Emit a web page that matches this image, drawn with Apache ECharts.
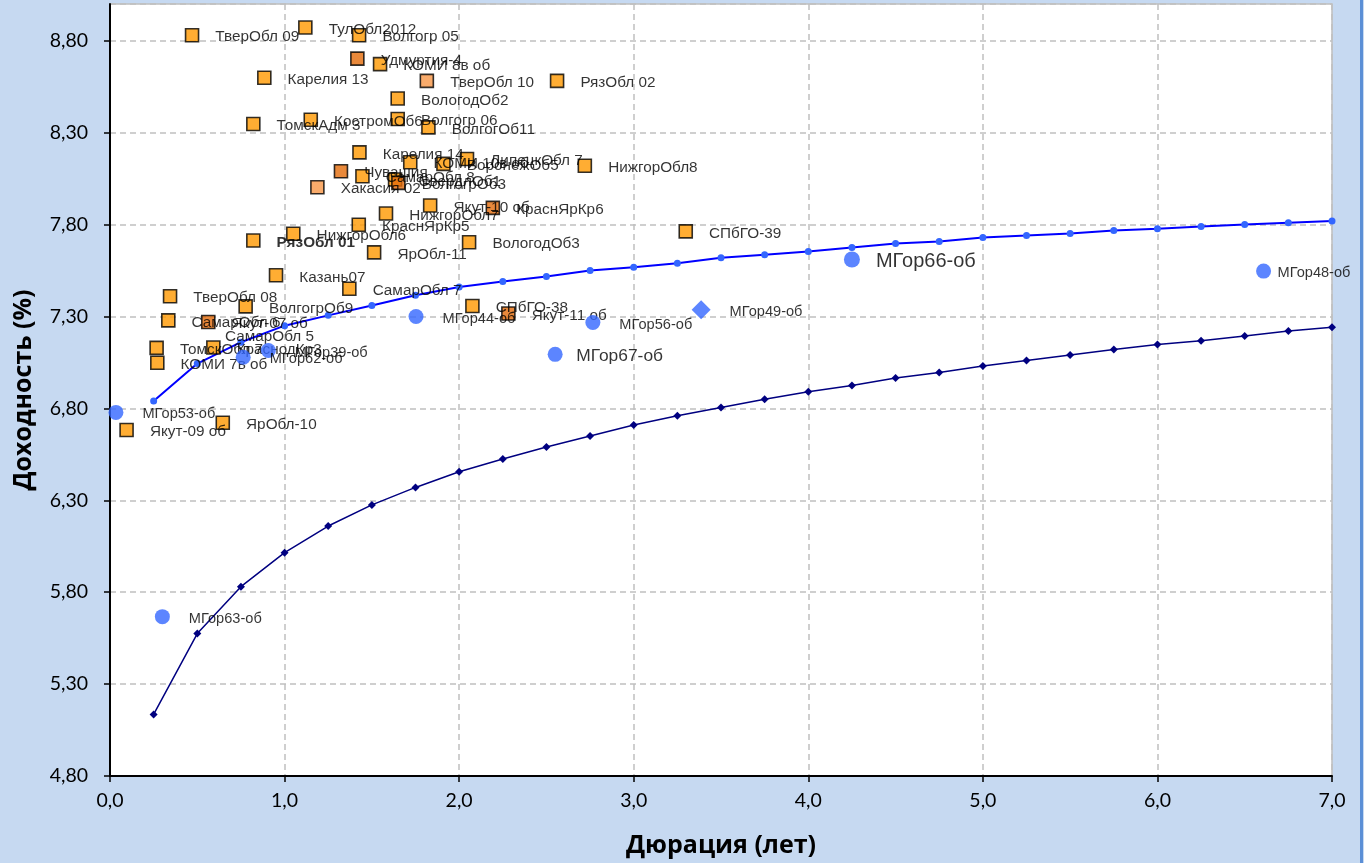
<!DOCTYPE html>
<html><head><meta charset="utf-8">
<script src="https://cdn.jsdelivr.net/npm/echarts@6/dist/echarts.min.js"></script>
<style>html,body{margin:0;padding:0;background:#c6d9f1}#c{width:1364px;height:863px}</style>
</head><body><div id="c"></div>
<script>
// Кривые доходности
const curveDur = [0.25,0.5,0.75,1.0,1.25,1.5,1.75,2.0,2.25,2.5,2.75,3.0,3.25,3.5,3.75,4.0,4.25,4.5,4.75,5.0,5.25,5.5,5.75,6.0,6.25,6.5,6.75,7.0];
const curveLow = [5.135,5.575,5.83,6.015,6.16,6.275,6.37,6.455,6.525,6.59,6.65,6.71,6.76,6.805,6.85,6.89,6.925,6.965,6.995,7.03,7.06,7.09,7.12,7.148,7.168,7.194,7.221,7.242];
const curveHigh = [6.84,7.044,7.16,7.25,7.306,7.36,7.415,7.46,7.49,7.518,7.55,7.568,7.59,7.62,7.636,7.654,7.675,7.697,7.708,7.73,7.74,7.752,7.768,7.777,7.79,7.80,7.81,7.82];

// Облигации Москвы
const mgorNames = ['МГор53-об','МГор63-об','МГор62-об','МГор39-об','МГор44-об','МГор67-об','МГор56-об','МГор49-об','МГор66-об','МГор48-об'];
const mgorDur   = [0.034,0.30,0.763,0.907,1.753,2.55,2.766,3.386,4.25,6.608];
const mgorYield = [6.778,5.667,7.078,7.115,7.30,7.094,7.267,7.337,7.61,7.547];
const mgorKind  = ['c','c','c','c','c','c','c','d','c','c'];

// Региональные облигации
const bondNames = ['ТверОбл 09','ТулОбл2012','Волгогр 05','Удмуртия-4','КОМИ 8в об','Карелия 13','ТверОбл 10','РязОбл 02','ВологодОб2','ТомскАдм 3','КостромОб6','Волгогр 06','ВолгогОб11','Карелия 14','КОМИ 10в об','ВоронежОб5','ЛипецкОбл 7','НижгорОбл8','Чувашия','СамарОбл 8','СвердлОб1','ВолгогрОб3','Хакасия 02','Якут-10 об','НижгорОбл7','КраснЯрКр6','КраснЯрКр5','ВологодОб3','РязОбл 01','НижгорОбл6','ЯрОбл-11','Казань07','СамарОбл 7','ТверОбл 08','ВолгогрОб9','СамарОбл 6','Якут-07 об','СамарОбл 5','ТомскОбл 7','КраснодКр3','КОМИ 7в об','Якут-09 об','ЯрОбл-10','СПбГО-38','Якут-11 об','СПбГО-39'];
const bondDur   = [0.47,1.119,1.427,1.417,1.547,0.884,1.815,2.561,1.648,0.821,1.15,1.648,1.824,1.429,1.72,1.91,2.045,2.72,1.323,1.446,1.633,1.652,1.188,1.834,1.581,2.193,1.425,2.057,0.821,1.05,1.513,0.951,1.371,0.344,0.777,0.334,0.563,0.567,0.267,0.592,0.271,0.095,0.646,2.076,2.282,3.298];
const bondYield = [8.83,8.872,8.83,8.703,8.673,8.599,8.582,8.582,8.486,8.347,8.37,8.374,8.329,8.193,8.139,8.13,8.157,8.12,8.09,8.063,8.045,8.027,8.003,7.904,7.86,7.891,7.799,7.704,7.713,7.75,7.649,7.524,7.451,7.41,7.355,7.279,7.27,7.20,7.129,7.131,7.048,6.682,6.722,7.357,7.316,7.763];
const bondTone  = ['n','n','n','d','n','n','l','n','n','n','n','n','n','n','n','n','n','n','d','n','n','d','l','n','n','d','n','n','n','n','n','n','n','n','n','n','d','x','n','n','n','n','n','n','d','n'];

const xTickLabel = v => v.toFixed(1).replace('.', ',');
const yTickLabel = v => v.toFixed(2).replace('.', ',');

const toneColor = {n:'#ff9900', d:'#e46c0a', l:'#f79646', x:'#ff9900'};
const labelFont = 'Liberation Sans, Arial, sans-serif';

const bondData = bondNames.map((n,i)=>({
  name:n, value:[bondDur[i], bondYield[i]],
  symbolSize: bondTone[i]==='x' ? 0 : 13,
  itemStyle:{color: toneColor[bondTone[i]]},
  label: n==='РязОбл 01' ? {fontWeight:'bold'} : undefined
}));
const mgorLabelSize = {'МГор66-об':20,'МГор67-об':17.4};
const mgorLabelDist = {'МГор48-об':6.5,'МГор67-об':13.5,'МГор66-об':16};
const mgorData = mgorNames.map((n,i)=>({
  name:n, value:[mgorDur[i], mgorYield[i]],
  symbol: mgorKind[i]==='d' ? 'diamond' : 'circle',
  symbolSize: mgorKind[i]==='d' ? 19 : (n==='МГор66-об' ? 16 : 15),
  label:{fontSize: mgorLabelSize[n] || 14.6, distance: mgorLabelDist[n] != null ? mgorLabelDist[n] : 19}
}));

const chart = echarts.init(document.getElementById('c'));
chart.setOption({
  animation:false,
  backgroundColor:'#c6d9f1',
  grid:{left:110,right:32,top:4,bottom:86,show:true,backgroundColor:'#ffffff',borderColor:'#bfbfbf',borderWidth:1.5},
  xAxis:{type:'value',min:0,max:7,interval:1,
    name:'Дюрация (лет)',nameLocation:'middle',nameGap:57,
    nameTextStyle:{fontFamily:'Open Sans',fontWeight:'bold',fontSize:25,color:'#000'},
    axisLine:{show:true,onZero:false,lineStyle:{color:'#000',width:2}},
    axisTick:{show:true,length:6,lineStyle:{color:'#000',width:1.5}},
    axisLabel:{formatter:xTickLabel,fontFamily:'Lato',fontSize:19.5,color:'#000',margin:15},
    splitLine:{show:true,lineStyle:{color:'#c0c0c0',width:1.5,type:[6,4]}}},
  yAxis:{type:'value',min:4.8,max:9.0,interval:0.5,
    name:'Доходность (%)',nameLocation:'middle',nameGap:74,
    nameTextStyle:{fontFamily:'Open Sans',fontWeight:'bold',fontSize:25,color:'#000'},
    axisLine:{show:true,onZero:false,lineStyle:{color:'#000',width:2}},
    axisTick:{show:true,length:6,lineStyle:{color:'#000',width:1.5}},
    axisLabel:{formatter:yTickLabel,fontFamily:'Lato',fontSize:19.5,color:'#000',margin:22,showMaxLabel:false},
    splitLine:{show:true,lineStyle:{color:'#c0c0c0',width:1.5,type:[6,4]}}},
  graphic:[{type:'rect',shape:{x:1360,y:0,width:3,height:863},style:{fill:'#5b8fd6'},silent:true}],
  series:[
    {type:'line',z:2,data:curveDur.map((d,i)=>[d,curveLow[i]]),smooth:false,
      symbol:'diamond',symbolSize:8,showAllSymbol:true,
      lineStyle:{color:'#000080',width:1.5},itemStyle:{color:'#000080'}},
    {type:'line',z:2,data:curveDur.map((d,i)=>[d,curveHigh[i]]),smooth:false,
      symbol:'circle',symbolSize:7,showAllSymbol:true,
      lineStyle:{color:'#0000ff',width:2},itemStyle:{color:'#3366ff'}},
    {type:'scatter',z:3,symbol:'rect',data:bondData,
      itemStyle:{borderColor:'#000',borderWidth:1.6},
      label:{show:true,position:'right',distance:16,offset:[0,2],formatter:'{b}',color:'#000',fontFamily:labelFont,fontSize:15.3}},
    {type:'scatter',z:4,data:mgorData,
      itemStyle:{color:'#3366ff'},
      label:{show:true,position:'right',distance:19,offset:[0,2],formatter:'{b}',color:'#000',fontFamily:labelFont,fontSize:14.6}}
  ]
});
</script></body></html>
